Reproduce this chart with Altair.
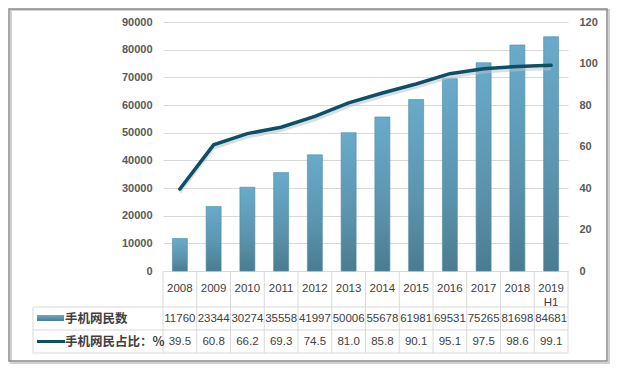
import altair as alt
import pandas as pd

years = ["2008", "2009", "2010", "2011", "2012", "2013", "2014", "2015",
         "2016", "2017", "2018", "2019\nH1"]
users = [11760, 23344, 30274, 35558, 41997, 50006, 55678, 61981, 69531,
         75265, 81698, 84681]
ratio = [39.5, 60.8, 66.2, 69.3, 74.5, 81.0, 85.8, 90.1, 95.1, 97.5, 98.6, 99.1]
series_names = ["手机网民数", "手机网民占比：%"]
left_ticks = [0, 10000, 20000, 30000, 40000, 50000, 60000, 70000, 80000, 90000]
right_ticks = [0, 20, 40, 60, 80, 100, 120]

df = pd.DataFrame({"year": years, "users": users, "ratio": ratio})

W, H = 405, 331
ZERO_PX = 249  # plot-y of the zero baseline; table lies below it
left_min = -(H - ZERO_PX) * 90000 / ZERO_PX
right_min = -(H - ZERO_PX) * 120 / ZERO_PX

NUM_FONT = "Liberation Sans"
CJK_FONT = "Noto Sans CJK SC"
GRID = "#d9d9d9"
TXT = "#404040"
LINE_C = "#0d4f66"

bar_grad = alt.Gradient(
    gradient="linear",
    stops=[alt.GradientStop(color="#69abcb", offset=0),
           alt.GradientStop(color="#5b93ad", offset=0.6),
           alt.GradientStop(color="#4a7c91", offset=1)],
    x1=0, x2=0, y1=0, y2=1,
)

xenc = alt.X("year:N", sort=years, axis=None,
             scale=alt.Scale(paddingInner=0, paddingOuter=0))

bars = alt.Chart(df).mark_bar(size=15, color=bar_grad, stroke="#4f8aa3",
                              strokeWidth=0.6).encode(
    x=xenc,
    y=alt.Y("users:Q",
            scale=alt.Scale(domain=[left_min, 90000], nice=False, zero=False),
            axis=alt.Axis(values=left_ticks, title=None, orient="left",
                          domain=False, ticks=False, labelPadding=11,
                          labelFont=NUM_FONT, labelFontSize=11,
                          labelColor="#595959", labelFontWeight="bold",
                          gridColor=GRID, gridWidth=1, format="d")),
    y2=alt.datum(0),
)

line_shadow = alt.Chart(df).mark_line(color="#b8c4ca", strokeWidth=3,
                                      opacity=0.55).encode(
    x=xenc,
    y=alt.Y("ratio:Q",
            scale=alt.Scale(domain=[right_min + 1.6, 120 + 1.6], nice=False, zero=False),
            axis=None),
)

line = alt.Chart(df).mark_line(color=LINE_C, strokeWidth=3.5,
                               strokeCap="round").encode(
    x=xenc,
    y=alt.Y("ratio:Q",
            scale=alt.Scale(domain=[right_min, 120], nice=False, zero=False),
            axis=alt.Axis(values=right_ticks, title=None, orient="right",
                          domain=False, ticks=False, labelPadding=11,
                          labelFont=NUM_FONT, labelFontSize=11,
                          labelColor="#595959", labelFontWeight="bold",
                          grid=False)),
)

one = alt.Data(values=[{"a": 1}])

# table borders
vlines = alt.Chart(df).mark_rule(color=GRID, strokeWidth=1).encode(
    x=alt.X("year:N", sort=years, axis=None, bandPosition=0),
    y=alt.value(ZERO_PX), y2=alt.value(H),
)
vright = alt.Chart(one).mark_rule(color=GRID, strokeWidth=1).encode(
    x=alt.value(W), y=alt.value(ZERO_PX), y2=alt.value(H))
vleft = alt.Chart(one).mark_rule(color=GRID, strokeWidth=1).encode(
    x=alt.value(-130), y=alt.value(285), y2=alt.value(H))
hl1 = alt.Chart(one).mark_rule(color=GRID, strokeWidth=1).encode(
    x=alt.value(-130), x2=alt.value(W), y=alt.value(285))
hl2 = alt.Chart(one).mark_rule(color=GRID, strokeWidth=1).encode(
    x=alt.value(-130), x2=alt.value(W), y=alt.value(308))
hl3 = alt.Chart(one).mark_rule(color=GRID, strokeWidth=1).encode(
    x=alt.value(-130), x2=alt.value(W), y=alt.value(H))

hdr = alt.Chart(df).mark_text(font=NUM_FONT, fontSize=11.5, color=TXT,
                              lineBreak="\n", baseline="middle",
                              lineHeight=14).encode(
    x=alt.X("year:N", sort=years, axis=None),
    y=alt.value(267),
    text="year:N",
)
row1 = alt.Chart(df).mark_text(font=NUM_FONT, fontSize=11.5, color=TXT,
                               baseline="middle").encode(
    x=alt.X("year:N", sort=years, axis=None),
    y=alt.value(296.5),
    text=alt.Text("users:Q", format="d"),
)
row2 = alt.Chart(df).mark_text(font=NUM_FONT, fontSize=11.5, color=TXT,
                               baseline="middle").encode(
    x=alt.X("year:N", sort=years, axis=None),
    y=alt.value(319.5),
    text=alt.Text("ratio:Q", format=".1f"),
)

# legend inside table
sw_bar = alt.Chart(one).mark_rect(color=alt.Gradient(
    gradient="linear",
    stops=[alt.GradientStop(color="#6aaccb", offset=0),
           alt.GradientStop(color="#4a7c91", offset=1)],
    x1=0, x2=0, y1=0, y2=1)).encode(
    x=alt.value(-126), x2=alt.value(-99), y=alt.value(293), y2=alt.value(299))
sw_line = alt.Chart(one).mark_rule(color=LINE_C, strokeWidth=3).encode(
    x=alt.value(-126), x2=alt.value(-98), y=alt.value(319.5))
lg_df = pd.DataFrame({"name": series_names, "yy": [296.5, 319.5]})
lg_text = alt.Chart(lg_df).mark_text(font=CJK_FONT, fontSize=12.5, color=TXT,
                                     align="left", baseline="middle",
                                     fontWeight="bold").encode(
    x=alt.value(-98),
    y=alt.Y("yy:Q", scale=None),
    text="name:N",
)

frame_shadow = alt.Chart(one).mark_rect(fill=None, stroke="#d0d0d0",
                                        strokeWidth=2).encode(
    x=alt.value(-152), x2=alt.value(446), y=alt.value(-12), y2=alt.value(341))
frame = alt.Chart(one).mark_rect(fill=None, stroke="#8a8a8a",
                                 strokeWidth=1.5).encode(
    x=alt.value(-154), x2=alt.value(444), y=alt.value(-13), y2=alt.value(339))

chart = alt.layer(
    frame_shadow, frame,
    vlines, vright, vleft, hl1, hl2, hl3,
    bars, line_shadow, line,
    hdr, row1, row2, sw_bar, sw_line, lg_text,
).resolve_scale(y="independent").properties(
    width=W, height=H,
    autosize=alt.AutoSizeParams(type="none"),
    padding={"left": 155, "top": 14, "right": 48, "bottom": 14},
).configure_view(stroke=None)

chart.save("out.html", embed_options={"renderer": "svg", "actions": False})
